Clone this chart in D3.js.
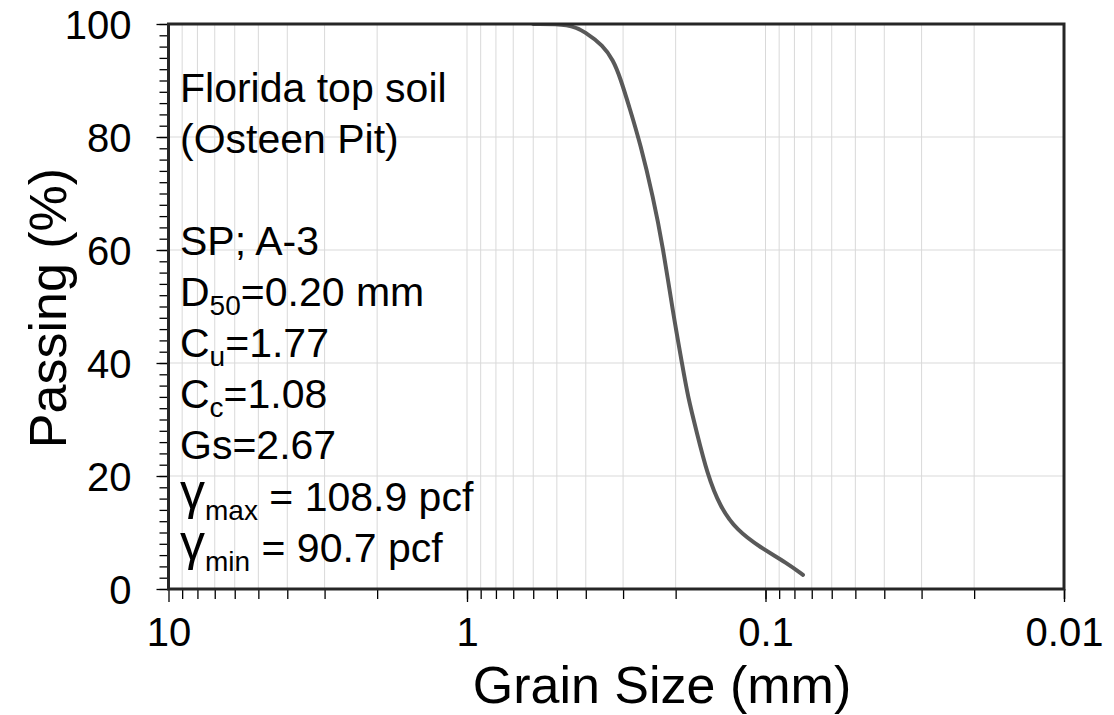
<!DOCTYPE html>
<html>
<head>
<meta charset="utf-8">
<script src="https://cdn.jsdelivr.net/npm/d3@7"></script>
<style>
  body { margin: 0; background: #fff; }
  text { font-family: "Liberation Sans", Arial, sans-serif; fill: #000; }
</style>
</head>
<body>
<svg id="chart" width="1114" height="715"></svg>
<script>
// grain size (mm) and percent passing
const grainSize = [0.6, 0.452, 0.402, 0.35, 0.324, 0.307, 0.284, 0.263, 0.238, 0.2205, 0.204, 0.1905, 0.182, 0.1697, 0.157, 0.142, 0.1247, 0.1044, 0.0848, 0.0749];
const passing   = [100, 100, 98.6, 96.2, 93.6, 90.6, 84.8, 78.9, 69.4, 60.5, 48.8, 40.0, 34.0, 27.6, 20.5, 14.5, 10.4, 7.4, 4.6, 2.5];

const xTickLabels = ["10", "1", "0.1", "0.01"];
const yTicks = [0, 20, 40, 60, 80, 100];

// annotation lines: [lead, subscript, rest]
const notes = [
  ["Florida top soil", "", ""],
  ["(Osteen Pit)", "", ""],
  ["", "", ""],
  ["SP; A-3", "", ""],
  ["D", "50", "=0.20 mm"],
  ["C", "u", "=1.77"],
  ["C", "c", "=1.08"],
  ["Gs=2.67", "", ""],
  ["γ", "max", " = 108.9 pcf"],
  ["γ", "min", " = 90.7 pcf"]
];

const svg = d3.select("#chart");
const mLeft = 168.5, mRight = 1064, mTop = 24, mBottom = 589;

const x = d3.scaleLog().domain([10, 0.01]).range([mLeft, mRight]);
const y = d3.scaleLinear().domain([0, 100]).range([mBottom, mTop]);

svg.append("defs").append("clipPath").attr("id", "plot-clip")
  .append("rect")
  .attr("x", mLeft).attr("y", mTop)
  .attr("width", mRight - mLeft).attr("height", mBottom - mTop);

// minor positions on the log axis
const minorX = [];
[10, 1, 0.1].forEach(dec => {
  for (let k = 1; k <= 9; k++) minorX.push(dec / 10 * k);
});
minorX.push(0.01);
const minorY = d3.range(0, 101, 2);

// grid
svg.append("g").selectAll("line")
  .data(minorX)
  .join("line")
  .attr("x1", d => x(d)).attr("x2", d => x(d))
  .attr("y1", mTop).attr("y2", mBottom)
  .attr("stroke", "#d9d9d9").attr("stroke-width", 1);

svg.append("g").selectAll("line")
  .data(yTicks.slice(1, -1))
  .join("line")
  .attr("x1", mLeft).attr("x2", mRight)
  .attr("y1", d => y(d)).attr("y2", d => y(d))
  .attr("stroke", "#d9d9d9").attr("stroke-width", 1);

// x axis ticks
const xAxisMinor = d3.axisBottom(x).tickValues(minorX).tickSize(10).tickFormat("");
const xAxisMajor = d3.axisBottom(x).tickValues([10, 1, 0.1, 0.01]).tickSize(13)
  .tickFormat((d, i) => xTickLabels[i]).tickPadding(16);

const gxm = svg.append("g").attr("transform", `translate(0,${mBottom})`).call(xAxisMinor);
const gx = svg.append("g").attr("transform", `translate(0,${mBottom})`).call(xAxisMajor);
[gxm, gx].forEach(g => {
  g.select(".domain").remove();
  g.selectAll("line").attr("stroke", "#000").attr("stroke-width", 1.3);
});
gx.selectAll("text").attr("font-size", 40).attr("dy", "0.71em");

// y axis ticks
const yAxisMinor = d3.axisLeft(y).tickValues(minorY).tickSize(9).tickFormat("");
const yAxisMajor = d3.axisLeft(y).tickValues(yTicks).tickSize(12).tickPadding(25);

const gym = svg.append("g").attr("transform", `translate(${mLeft},0)`).call(yAxisMinor);
const gy = svg.append("g").attr("transform", `translate(${mLeft},0)`).call(yAxisMajor);
[gym, gy].forEach(g => {
  g.select(".domain").remove();
  g.selectAll("line").attr("stroke", "#000").attr("stroke-width", 1.3);
});
gy.selectAll("text").attr("font-size", 40).attr("dy", "0.36em");

// curve
const pts = grainSize.map((d, i) => [d, passing[i]]);
svg.append("path")
  .datum(pts)
  .attr("clip-path", "url(#plot-clip)")
  .attr("fill", "none")
  .attr("stroke", "#595959")
  .attr("stroke-width", 4)
  .attr("stroke-linecap", "round")
  .attr("d", d3.line().x(d => x(d[0])).y(d => y(d[1])).curve(d3.curveBasis));

// frame
svg.append("rect")
  .attr("x", mLeft).attr("y", mTop)
  .attr("width", mRight - mLeft).attr("height", mBottom - mTop)
  .attr("fill", "none").attr("stroke", "#262626").attr("stroke-width", 3);

// annotation
const note = svg.append("g");
notes.forEach((n, i) => {
  const t = note.append("text")
    .attr("x", 180)
    .attr("y", 101.7 + i * 51.1)
    .attr("font-size", 41);
  if (n[0] === "γ") {
    t.append("tspan").attr("font-size", 50).attr("dy", -2).text(n[0]);
    t.append("tspan").attr("font-size", 28).attr("dy", 11).text(n[1]);
    t.append("tspan").attr("dy", -9).text(n[2]);
  } else {
    t.append("tspan").text(n[0]);
    if (n[1]) {
      t.append("tspan").attr("font-size", 28).attr("dy", 9).text(n[1]);
      t.append("tspan").attr("dy", -9).text(n[2]);
    }
  }
});

// axis titles
svg.append("text")
  .attr("x", 662).attr("y", 703)
  .attr("text-anchor", "middle")
  .attr("font-size", 52)
  .text("Grain Size (mm)");

svg.append("text")
  .attr("transform", "translate(66,308) rotate(-90)")
  .attr("text-anchor", "middle")
  .attr("font-size", 52)
  .text("Passing (%)");
</script>
</body>
</html>
